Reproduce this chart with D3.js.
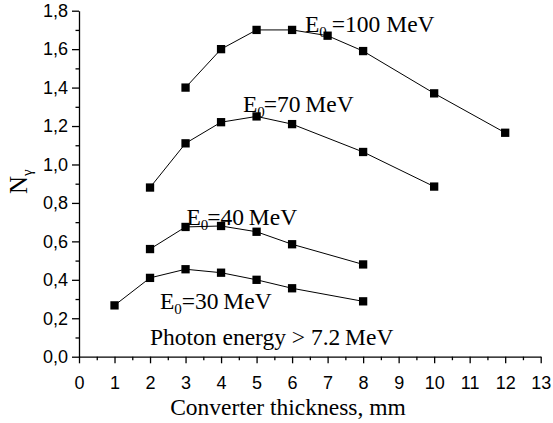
<!DOCTYPE html>
<html>
<head>
<meta charset="utf-8">
<script src="https://cdn.jsdelivr.net/npm/d3@7"></script>
<style>
  body { margin: 0; background: #fff; }
  svg { display: block; }
</style>
</head>
<body>
<svg id="chart" width="553" height="423"></svg>
<script>
// data (converter thickness in mm, N_gamma)
var thick100 = [3, 4, 5, 6, 7, 8, 10, 12];
var vals100  = [1.40, 1.60, 1.70, 1.70, 1.67, 1.59, 1.37, 1.165];
var thick70  = [2, 3, 4, 5, 6, 8, 10];
var vals70   = [0.88, 1.11, 1.22, 1.25, 1.21, 1.065, 0.885];
var thick40  = [2, 3, 4, 5, 6, 8];
var vals40   = [0.56, 0.675, 0.68, 0.65, 0.585, 0.48];
var thick30  = [1, 2, 3, 4, 5, 6, 8];
var vals30   = [0.267, 0.41, 0.455, 0.437, 0.40, 0.356, 0.288];

var seriesNames = ["100", "70", "40", "30"];
var xTicks = d3.range(0, 14);
var yTicks = [0, 0.2, 0.4, 0.6, 0.8, 1.0, 1.2, 1.4, 1.6, 1.8];

var serifFont = "Liberation Serif";
var sansFont = "Liberation Sans";

var svg = d3.select("#chart");

var x = d3.scaleLinear().domain([0, 13]).range([79, 540.7]);
var y = d3.scaleLinear().domain([0, 1.8]).range([356.7, 10.7]);

var commaFmt = function (d) { return d.toFixed(1).replace(".", ","); };

// minor ticks first, then the major ones on top
svg.append("g")
    .attr("transform", "translate(0," + y(0) + ")")
    .call(d3.axisBottom(x).tickValues(d3.range(0.5, 13, 1)).tickSize(3.5).tickFormat(""))
    .call(function (g) { g.select(".domain").remove(); });

svg.append("g")
    .attr("transform", "translate(" + x(0) + ",0)")
    .call(d3.axisLeft(y).tickValues(d3.range(0.1, 1.8, 0.2)).tickSize(3.5).tickFormat(""))
    .call(function (g) { g.select(".domain").remove(); });

var xAxis = svg.append("g")
    .attr("transform", "translate(0," + y(0) + ")")
    .call(d3.axisBottom(x).tickValues(xTicks).tickSize(6.6).tickPadding(13.4).tickSizeOuter(0));

var yAxis = svg.append("g")
    .attr("transform", "translate(" + x(0) + ",0)")
    .call(d3.axisLeft(y).tickValues(yTicks).tickSize(7).tickPadding(4).tickFormat(commaFmt).tickSizeOuter(0));

[xAxis, yAxis].forEach(function (ax) {
    ax.attr("font-family", sansFont).attr("font-size", 18);
    ax.selectAll("path").attr("stroke", "#000").attr("stroke-width", 1.3);
    ax.selectAll("text").attr("fill", "#000");
});
svg.selectAll("g line").attr("stroke", "#000").attr("stroke-width", 1.3);

var allSeries = [
    { xs: thick100, ys: vals100 },
    { xs: thick70,  ys: vals70 },
    { xs: thick40,  ys: vals40 },
    { xs: thick30,  ys: vals30 }
];

var line = d3.line()
    .x(function (d) { return x(d[0]); })
    .y(function (d) { return y(d[1]); });

var markSize = 8.3;

allSeries.forEach(function (s) {
    var pts = d3.zip(s.xs, s.ys);
    svg.append("path")
        .datum(pts)
        .attr("fill", "none")
        .attr("stroke", "#000")
        .attr("stroke-width", 1)
        .attr("d", line);

    svg.selectAll(null)
        .data(pts)
        .enter()
        .append("rect")
            .attr("x", function (d) { return x(d[0]) - markSize / 2; })
            .attr("y", function (d) { return y(d[1]) - markSize / 2; })
            .attr("width", markSize)
            .attr("height", markSize)
            .attr("fill", "#000");
});

// series labels  E0=... MeV
var labelPos = [
    { lx: 305, ly: 32, gap: 5, sp: " " },
    { lx: 243, ly: 111.5, gap: -1, sp: "\u2009" },
    { lx: 186.5, ly: 225, gap: -1, sp: "\u2009" },
    { lx: 160, ly: 309, gap: 0, sp: "\u2009" }
];

function serifText(sel, size) {
    return sel.append("text")
        .attr("font-family", serifFont)
        .attr("font-size", size)
        .attr("fill", "#000");
}

seriesNames.forEach(function (name, i) {
    var p = labelPos[i];
    var t = serifText(svg, 23.5)
        .attr("x", p.lx)
        .attr("y", p.ly);
    t.append("tspan").text("E");
    t.append("tspan").attr("dy", 5).attr("font-size", 15).text("0");
    t.append("tspan").attr("dy", -5).attr("dx", p.gap).text("=" + name + p.sp + "MeV");
});

serifText(svg, 23.5)
    .attr("x", 150)
    .attr("y", 345)
    .text("Photon energy > 7.2\u2009MeV");

// axis titles
serifText(svg, 23.5)
    .attr("x", 288)
    .attr("y", 414.5)
    .attr("text-anchor", "middle")
    .text("Converter thickness, mm");

var yTitle = serifText(svg, 25)
    .attr("transform", "translate(27,194) rotate(-90)");
yTitle.append("tspan").text("N");
yTitle.append("tspan").attr("dy", 5).attr("font-size", 15).text("\u03b3");
</script>
</body>
</html>
